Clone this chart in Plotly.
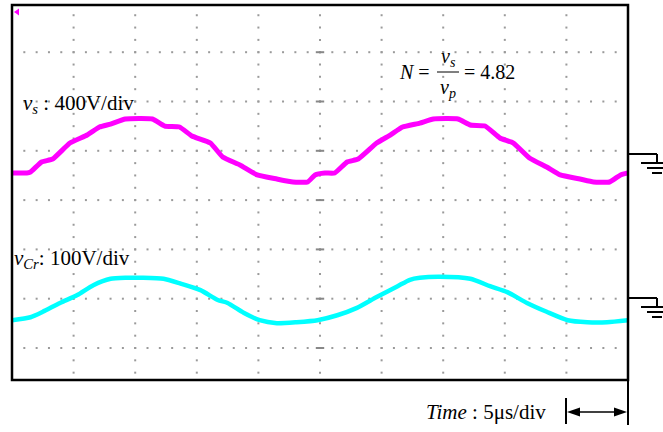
import numpy as np
import plotly.graph_objects as go

# ---------------- data ----------------
# time in microseconds (5 us/div, 10 div)
t_vs = [0.0, 1.2, 1.5, 2.4, 3.3, 4.7, 6.1, 7.1, 8.0, 9.2, 11.4, 12.4, 13.6, 14.6,
        16.1, 17.1, 18.5, 19.9, 21.5, 22.8, 24.0, 24.6, 25.4, 26.2, 27.2, 28.1,
        29.6, 30.7, 31.7, 33.1, 34.2, 36.2, 37.2, 38.4, 39.6, 40.7, 42.0, 43.4,
        44.5, 46.1, 47.2, 48.5, 49.4, 50.0]
# secondary voltage v_s in volts (400 V/div)
v_s = [-154, -154, -146, -65, -41, 89, 154, 219, 243, 284, 284, 227, 219, 146,
       89, -24, -89, -170, -203, -227, -227, -170, -154, -154, -65, -41,
       89, 154, 219, 251, 284, 284, 235, 227, 130, 89, -32, -105,
       -170, -203, -227, -227, -170, -154]

t_cr = [0.0, 1.5, 2.5, 3.9, 5.3, 6.6, 8.0, 9.3, 10.6, 12.3, 13.6, 15.3, 16.7,
        17.5, 18.8, 20.1, 21.5, 23.1, 24.8, 26.4, 28.0, 29.6, 31.3, 32.3, 33.1,
        34.7, 37.2, 38.8, 40.2, 41.8, 43.4, 45.1, 46.7, 48.3, 50.0]
# resonant capacitor voltage v_Cr in volts (100 V/div)
v_cr = [-45, -39, -28, -10, 6, 26, 39, 41, 41, 39, 30, 16, -4,
        -10, -30, -45, -51, -49, -45, -35, -20, 2, 24, 37, 41,
        43, 39, 24, 12, -10, -28, -45, -49, -49, -45]

# graticule: 10 horizontal divisions, visible rows
x_divs = [5, 10, 15, 20, 25, 30, 35, 40, 45]
y_rows = [0, 1, 2, 3, 4, 5, 6]

W, H = 663, 432
L, R, T, B = 12, 35, 5, 52
PW, PH = W - L - R, H - T - B


def px(x):
    return (x - L) / PW


def py(y):
    return (H - B - y) / PH


fig = go.Figure()

# graticule dots
gx, gy = [], []
for r in y_rows:
    for x in np.arange(1, 50, 1.0):
        gx.append(x)
        gy.append(r)
for c in x_divs:
    for y in np.arange(-0.5, 6.8, 0.25):
        gx.append(c)
        gy.append(y)
fig.add_trace(go.Scatter(x=gx, y=gy, mode="markers", yaxis="y",
                         marker=dict(symbol="square", size=2, color="#9a9a9a",
                                     line=dict(width=0)),
                         hoverinfo="skip", showlegend=False))
fig.add_trace(go.Scatter(x=[25] * len(y_rows), y=y_rows, mode="markers", yaxis="y",
                         marker=dict(symbol="line-ew", size=6, color="#888",
                                     line=dict(width=2, color="#888")),
                         hoverinfo="skip", showlegend=False))

fig.add_trace(go.Scatter(x=t_vs, y=v_s, mode="lines", yaxis="y2",
                         line=dict(color="#FF00FF", width=5, shape="spline",
                                   smoothing=0.4),
                         showlegend=False))
fig.add_trace(go.Scatter(x=t_cr, y=v_cr, mode="lines", yaxis="y3",
                         line=dict(color="#00FFFF", width=4.5, shape="spline",
                                   smoothing=0.6),
                         showlegend=False))

# ground levels: row spacing 49.3 px
div_px = 49.3
y_bot, y_top = H - B, T
gnd_vs, gnd_cr = 154, 298
fig.update_layout(
    width=W, height=H,
    margin=dict(l=L, r=R, t=T, b=B),
    paper_bgcolor="white", plot_bgcolor="white",
    xaxis=dict(range=[0, 50], visible=False),
    yaxis=dict(range=[-(y_bot - 348) / div_px, (348 - y_top) / div_px], visible=False),
    yaxis2=dict(range=[-(y_bot - gnd_vs) / div_px * 400, (gnd_vs - y_top) / div_px * 400],
                overlaying="y", visible=False),
    yaxis3=dict(range=[-(y_bot - gnd_cr) / div_px * 100, (gnd_cr - y_top) / div_px * 100],
                overlaying="y", visible=False),
)

shapes = []
blk = dict(color="black", width=2)


def seg(a, b, line=blk):
    return dict(type="line", xref="paper", yref="paper",
                x0=px(a[0]), y0=py(a[1]), x1=px(b[0]), y1=py(b[1]), line=line)


def tri(p1, p2, p3):
    return dict(type="path", xref="paper", yref="paper",
                path=(f"M {px(p1[0])} {py(p1[1])} L {px(p2[0])} {py(p2[1])} "
                      f"L {px(p3[0])} {py(p3[1])} Z"),
                fillcolor="black", line=dict(width=0))


shapes.append(dict(type="rect", xref="paper", yref="paper", x0=0, x1=1, y0=0, y1=1,
                   line=dict(color="black", width=2.5)))
# ground symbols
for g in (gnd_vs, gnd_cr):
    for (a, b) in [((628, g), (657, g)), ((657, g), (657, g + 9)),
                   ((641, g + 9), (673, g + 9)), ((647, g + 14), (667, g + 14)),
                   ((652, g + 19), (662, g + 19))]:
        shapes.append(seg(a, b))
# time scale marker with double arrow
shapes.append(seg((628, 380), (628, 425)))
shapes.append(seg((566, 398), (566, 424)))
shapes.append(seg((572, 412), (622, 412), dict(color="black", width=1.5)))
shapes.append(tri((567, 412), (580, 407.5), (580, 416.5)))
shapes.append(tri((627, 412), (614, 407.5), (614, 416.5)))
# fraction bar
shapes.append(seg((437, 72), (459, 72), dict(color="black", width=1)))
# trigger marker
shapes.append(dict(type="path", xref="paper", yref="paper",
                   path=f"M {px(14)} {py(12)} L {px(19)} {py(8.5)} L {px(19)} {py(15.5)} Z",
                   fillcolor="#FF00FF", line=dict(width=0)))
fig.update_layout(shapes=shapes)

font = dict(family="Liberation Serif, Times New Roman, serif", size=21, color="black")
fnt2 = dict(family="Liberation Serif, Times New Roman, serif", size=20, color="black")
ann = [
    dict(text="<i>v<sub>s</sub></i> : 400V/div", x=px(21), y=py(104),
         xanchor="left", yanchor="middle", font=font),
    dict(text="<i>v<sub>Cr</sub></i>: 100V/div", x=px(12), y=py(259),
         xanchor="left", yanchor="middle", font=font),
    dict(text="<i>Time</i> : 5μs/div", x=px(486), y=py(412),
         xanchor="center", yanchor="middle", font=font),
    dict(text="<i>N</i> =", x=px(397), y=py(72), xanchor="left", yanchor="middle", font=fnt2),
    dict(text="<i>v<sub>s</sub></i>", x=px(448), y=py(58), xanchor="center", yanchor="middle", font=fnt2),
    dict(text="<i>v<sub>p</sub></i>", x=px(448), y=py(88), xanchor="center", yanchor="middle", font=fnt2),
    dict(text="= 4.82", x=px(462), y=py(72), xanchor="left", yanchor="middle", font=fnt2),
]
for a in ann:
    a.update(xref="paper", yref="paper", showarrow=False)
fig.update_layout(annotations=ann)

fig.write_html("out.html")
